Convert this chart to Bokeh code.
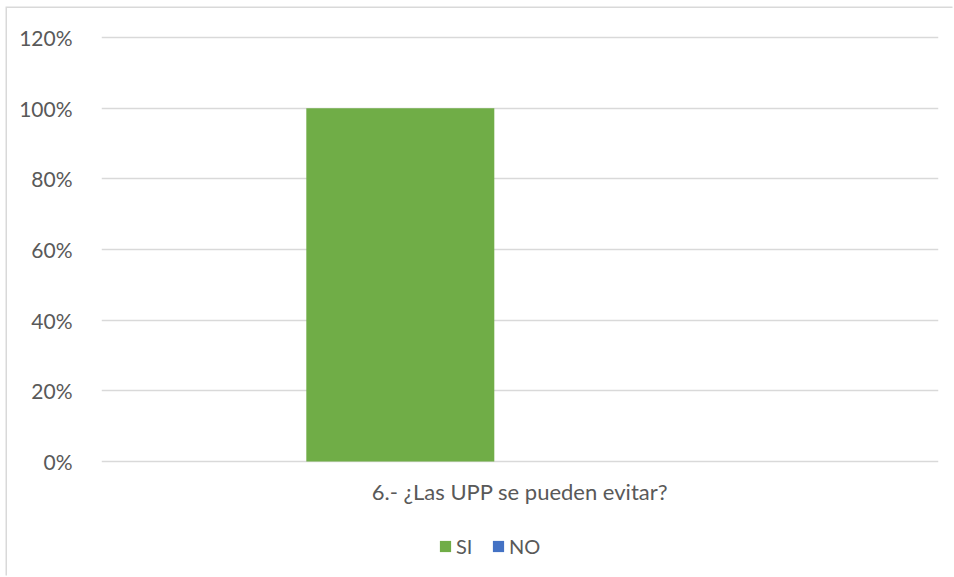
from bokeh.plotting import figure
from bokeh.layouts import column
from bokeh.models import (ColumnDataSource, FactorRange, Range1d, FixedTicker, NumeralTickFormatter,
                          Legend, LegendItem, InlineStyleSheet)
from bokeh.transform import dodge
from bokeh.embed import file_html
from bokeh.resources import INLINE

categories = ["6.- ¿Las UPP se pueden evitar?"]
series_names = ["SI", "NO"]
si_values = [1.0]
no_values = [0.0]
y_ticks = [0, 0.2, 0.4, 0.6, 0.8, 1.0, 1.2]
colors = ["#70AD47", "#4472C4"]

FONT = "Lato"
TEXT = "#595959"

src = ColumnDataSource(dict(cat=categories, si=si_values, no=no_values))

pad = 3 / (424 / 1.2)
p = figure(width=947, height=512, output_backend="svg", toolbar_location=None,
           x_range=FactorRange(*categories, range_padding=0), y_range=Range1d(-pad, 1.2 + pad),
           min_border_left=94, min_border_right=16, min_border_top=26, min_border_bottom=56)
p.outline_line_color = None
p.background_fill_color = "white"
p.border_fill_color = "white"

p.vbar(x=dodge("cat", -0.143, range=p.x_range), top="si", width=0.2246, source=src,
       fill_color=colors[0], line_color=None)
p.vbar(x=dodge("cat", 0.143, range=p.x_range), top="no", width=0.2246, source=src,
       fill_color=colors[1], line_color=None)

p.yaxis.ticker = FixedTicker(ticks=y_ticks)
p.yaxis.formatter = NumeralTickFormatter(format="0%")
p.yaxis.axis_line_color = None
p.yaxis.major_tick_line_color = None
p.yaxis.minor_tick_line_color = None
p.yaxis.major_label_standoff = 23
p.yaxis.major_label_text_font = FONT
p.yaxis.major_label_text_font_size = "21px"
p.yaxis.major_label_text_color = TEXT

p.xaxis.axis_line_color = None
p.xaxis.major_tick_line_color = None
p.xaxis.major_label_standoff = 7
p.xaxis.major_label_text_font = FONT
p.xaxis.major_label_text_font_size = "22px"
p.xaxis.major_label_text_color = TEXT

p.xgrid.grid_line_color = None
p.ygrid.grid_line_color = "#D9D9D9"
p.ygrid.grid_line_width = 1.5

# legend strip below the chart
lg = figure(width=947, height=57, output_backend="svg", toolbar_location=None,
            x_range=FactorRange(*categories, range_padding=0), y_range=Range1d(2, 3),
            min_border=0)
lg.axis.visible = False
lg.grid.visible = False
lg.outline_line_color = None
lg.background_fill_color = "white"
lg.border_fill_color = "white"
l_si = lg.vbar(x="cat", top="si", width=0.2, source=src, fill_color=colors[0], line_color=None)
l_no = lg.vbar(x="cat", top="no", width=0.2, source=src, fill_color=colors[1], line_color=None)
legend = Legend(items=[LegendItem(label=series_names[0], renderers=[l_si]),
                       LegendItem(label=series_names[1], renderers=[l_no])],
                orientation="horizontal", location=(337, 19), padding=0, margin=0, spacing=15,
                label_standoff=4, glyph_width=14, glyph_height=14,
                label_text_font=FONT, label_text_font_size="20px", label_text_color=TEXT,
                border_line_color=None, background_fill_alpha=0)
lg.add_layout(legend, "center")

layout = column(p, lg, spacing=0)
layout.margin = (8, 0, 0, 7)
layout.stylesheets = [InlineStyleSheet(css=":host { box-shadow: -1.5px -1.5px 0 0 #D9D9D9; }")]

open("out.html", "w").write(file_html(layout, INLINE))
